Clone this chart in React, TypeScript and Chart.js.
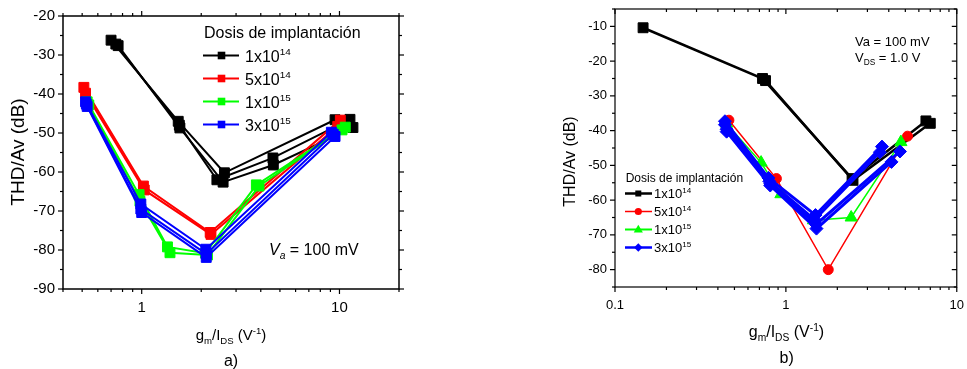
import React, { useEffect, useRef } from 'react';
import { Chart, registerables } from 'chart.js';

Chart.register(...registerables);

const FONT = '"Liberation Sans", Arial, Helvetica, sans-serif';

type Pt = [number, number];

// ---------------- Panel a) ----------------
const aBlack1: Pt[] = [[0.70, -26.2], [1.53, -47.0], [2.62, -60.2], [9.5, -46.6]];
const aBlack2: Pt[] = [[0.74, -27.2], [1.55, -48.0], [2.40, -62.0], [4.61, -56.4], [11.3, -46.5]];
const aBlack3: Pt[] = [[0.76, -27.6], [1.56, -48.7], [2.58, -62.6], [4.63, -58.2], [11.7, -48.6]];
const aRed1: Pt[] = [[0.51, -38.3], [1.02, -63.6], [2.22, -75.5], [10.1, -46.7]];
const aRed2: Pt[] = [[0.52, -39.8], [1.03, -64.6], [2.24, -76.0], [9.8, -48.3]];
const aGreen1: Pt[] = [[0.53, -42.0], [0.97, -65.8], [1.35, -79.2], [2.10, -80.8], [3.80, -63.3], [10.7, -48.5]];
const aGreen2: Pt[] = [[0.54, -42.8], [0.98, -67.5], [1.39, -80.7], [2.15, -81.3], [3.92, -63.6], [10.3, -49.2]];
const aBlue1: Pt[] = [[0.52, -42.0], [0.99, -68.2], [2.11, -79.8], [9.1, -49.8]];
const aBlue2: Pt[] = [[0.53, -43.2], [1.00, -70.4], [2.12, -81.9], [9.5, -50.9]];
const aBlue3: Pt[] = [[0.525, -42.6], [0.99, -69.5], [2.12, -81.0], [9.3, -50.3]];

const aXMajor = [1, 10];
const aXMinor = [0.4, 0.5, 0.6, 0.7, 0.8, 0.9, 2, 3, 4, 5, 6, 7, 8, 9, 20];
const aYMajor = [-90, -80, -70, -60, -50, -40, -30, -20];
const aYMinor = [-85, -75, -65, -55, -45, -35, -25];

// ---------------- Panel b) ----------------
const bBlack1: Pt[] = [[0.146, -10.4], [0.73, -25.0], [2.44, -53.8], [6.6, -37.2]];
const bBlack2: Pt[] = [[0.76, -25.6], [2.47, -54.3], [7.0, -37.9]];
const bRed: Pt[] = [[0.464, -37.0], [0.88, -53.8], [1.77, -80.0], [5.15, -41.6]];
const bGreen: Pt[] = [[0.45, -38.0], [0.716, -49.2], [0.935, -58.3], [1.45, -65.8], [2.41, -65.0], [4.71, -43.3]];
const bBlue1: Pt[] = [[0.44, -37.3], [0.79, -53.6], [1.49, -64.3], [3.65, -44.6]];
const bBlue2: Pt[] = [[0.44, -38.3], [0.80, -54.6], [1.47, -65.6], [3.55, -46.2]];
const bBlue3: Pt[] = [[0.45, -39.6], [0.81, -55.3], [1.50, -67.0], [4.65, -46.0]];
const bBlue4: Pt[] = [[0.45, -40.3], [0.81, -55.8], [1.51, -68.2], [4.15, -49.0]];

const bXMajor = [0.1, 1, 10];
const bXMinor = [0.2, 0.3, 0.4, 0.5, 0.6, 0.7, 0.8, 0.9, 2, 3, 4, 5, 6, 7, 8, 9];
const bYMajor = [-80, -70, -60, -50, -40, -30, -20, -10];
const bYMinor = [-85, -75, -65, -55, -45, -35, -25, -15, -5];

// ---------------- Legend ----------------
const legendTitle = 'Dosis de implantación';
const doseBase = ['1x10', '5x10', '1x10', '3x10'];
const doseExp = ['14', '14', '15', '15'];
const COLORS = ['#000000', '#ff0000', '#00ff00', '#0000ff'];

type Seg = { t: string; k?: 'sub' | 'sup'; it?: boolean };

function drawRich(ctx: CanvasRenderingContext2D, segs: Seg[], x: number, y: number, size: number, align: 'left' | 'center', ratio = 0.64) {
  const small = size * ratio;
  const fontOf = (s: Seg) => `${s.it ? 'italic ' : ''}${s.k ? small : size}px ${FONT}`;
  let w = 0;
  for (const s of segs) {
    ctx.font = fontOf(s);
    w += ctx.measureText(s.t).width;
  }
  let cx = align === 'center' ? x - w / 2 : x;
  ctx.textAlign = 'left';
  ctx.textBaseline = 'alphabetic';
  for (const s of segs) {
    ctx.font = fontOf(s);
    const dy = s.k === 'sub' ? size * 0.25 : s.k === 'sup' ? -size * 0.4 : 0;
    ctx.fillText(s.t, cx, y + dy);
    cx += ctx.measureText(s.t).width;
  }
}

function line(ctx: CanvasRenderingContext2D, x1: number, y1: number, x2: number, y2: number) {
  ctx.beginPath();
  ctx.moveTo(x1, y1);
  ctx.lineTo(x2, y2);
  ctx.stroke();
}

function marker(ctx: CanvasRenderingContext2D, style: string, x: number, y: number, r: number, color: string) {
  ctx.fillStyle = color;
  ctx.beginPath();
  if (style === 'rect') {
    ctx.rect(x - r, y - r, 2 * r, 2 * r);
  } else if (style === 'circle') {
    ctx.arc(x, y, r, 0, Math.PI * 2);
  } else if (style === 'triangle') {
    ctx.moveTo(x, y - r);
    ctx.lineTo(x + r * 0.95, y + r * 0.65);
    ctx.lineTo(x - r * 0.95, y + r * 0.65);
    ctx.closePath();
  } else {
    ctx.moveTo(x, y - r);
    ctx.lineTo(x + r, y);
    ctx.lineTo(x, y + r);
    ctx.lineTo(x - r, y);
    ctx.closePath();
  }
  ctx.fill();
}

type TickCfg = { xMajor: number[]; xMinor: number[]; yMajor: number[]; yMinor: number[]; inward: boolean; frame: number };

function drawFrameTicks(chart: any, c: TickCfg) {
  const ctx: CanvasRenderingContext2D = chart.ctx;
  const { left, right, top, bottom } = chart.chartArea;
  const xs = chart.scales.x;
  const ys = chart.scales.y;
  ctx.strokeStyle = '#000';
  ctx.lineWidth = c.frame;
  ctx.strokeRect(left, top, right - left, bottom - top);
  ctx.lineWidth = 1.2;
  const dir = c.inward ? -1 : 1;
  const groups: [number[], number[], number][] = [
    [c.xMajor, c.yMajor, 5],
    [c.xMinor, c.yMinor, 3],
  ];
  for (const [xv, yv, len] of groups) {
    for (const v of xv) {
      const p = xs.getPixelForValue(v);
      line(ctx, p, bottom, p, bottom + len);
      line(ctx, p, top, p, top - len * dir);
    }
    for (const v of yv) {
      const p = ys.getPixelForValue(v);
      line(ctx, left, p, left - len, p);
      line(ctx, right, p, right + len * dir, p);
    }
  }
}

function ds(points: Pt[], color: string, order: number, style: any) {
  return {
    data: points.map(([x, y]) => ({ x, y })),
    borderColor: color,
    backgroundColor: color,
    pointBackgroundColor: color,
    pointBorderColor: color,
    pointBorderWidth: 1,
    order,
    tension: 0,
    ...style,
  };
}

function baseOptions(xMin: number, xMax: number, yMin: number, yMax: number, xMajor: number[], yMajor: number[], yWidth: number, xHeight: number, padding: any, tickSize: number, xPad: number, yPad: number) {
  return {
    responsive: false,
    animation: false,
    devicePixelRatio: 1,
    layout: { padding },
    plugins: { legend: { display: false }, tooltip: { enabled: false }, title: { display: false } },
    scales: {
      x: {
        type: 'logarithmic',
        min: xMin,
        max: xMax,
        grid: { display: false },
        border: { display: false },
        afterBuildTicks: (s: any) => { s.ticks = xMajor.map((v) => ({ value: v })); },
        afterFit: (s: any) => { s.height = xHeight; },
        ticks: {
          autoSkip: false,
          maxRotation: 0,
          minRotation: 0,
          padding: xPad,
          color: '#000',
          font: { family: FONT, size: tickSize },
          callback: (v: any) => String(v),
        },
      },
      y: {
        type: 'linear',
        min: yMin,
        max: yMax,
        grid: { display: false },
        border: { display: false },
        afterBuildTicks: (s: any) => { s.ticks = yMajor.map((v) => ({ value: v })); },
        afterFit: (s: any) => { s.width = yWidth; },
        ticks: {
          autoSkip: false,
          padding: yPad,
          color: '#000',
          font: { family: FONT, size: tickSize },
          callback: (v: any) => String(v),
        },
      },
    },
  };
}

function PanelA() {
  const ref = useRef<HTMLCanvasElement>(null);
  useEffect(() => {
    if (!ref.current) return;
    const sq = { borderWidth: 2, pointStyle: 'rect', pointRadius: 7 };
    const plugin = {
      id: 'decorA',
      afterDraw(chart: any) {
        const ctx: CanvasRenderingContext2D = chart.ctx;
        ctx.save();
        drawFrameTicks(chart, { xMajor: aXMajor, xMinor: aXMinor, yMajor: aYMajor, yMinor: aYMinor, inward: false, frame: 1.5 });
        ctx.fillStyle = '#000';
        // y title
        ctx.save();
        ctx.translate(19, 152);
        ctx.rotate(-Math.PI / 2);
        ctx.font = `19px ${FONT}`;
        ctx.textAlign = 'center';
        ctx.textBaseline = 'middle';
        ctx.fillText('THD/Av (dB)', 0, 0);
        ctx.restore();
        // x title
        drawRich(ctx, [{ t: 'g' }, { t: 'm', k: 'sub' }, { t: '/I' }, { t: 'DS', k: 'sub' }, { t: ' (V' }, { t: '-1', k: 'sup' }, { t: ')' }], 231, 340, 15, 'center');
        drawRich(ctx, [{ t: 'a)' }], 231, 366, 16, 'center');
        // annotation
        drawRich(ctx, [{ t: 'V', it: true }, { t: 'a', k: 'sub', it: true }, { t: ' = 100 mV' }], 269, 255, 16, 'left');
        // legend
        ctx.fillStyle = '#000';
        drawRich(ctx, [{ t: legendTitle }], 204, 38, 16, 'left');
        const ys = [55.5, 78.5, 101.5, 124.5];
        for (let i = 0; i < 4; i++) {
          ctx.strokeStyle = COLORS[i];
          ctx.lineWidth = 2;
          line(ctx, 203, ys[i], 239, ys[i]);
          marker(ctx, 'rect', 221.5, ys[i], 3.8, COLORS[i]);
          ctx.fillStyle = '#000';
          drawRich(ctx, [{ t: doseBase[i] }, { t: doseExp[i], k: 'sup' }], 245, ys[i] + 6, 16, 'left', 0.62);
        }
        ctx.restore();
      },
    };
    const chart = new Chart(ref.current, {
      type: 'line',
      data: {
        datasets: [
          ds(aBlack1, COLORS[0], 4, sq),
          ds(aBlack2, COLORS[0], 4, sq),
          ds(aBlack3, COLORS[0], 4, sq),
          ds(aRed1, COLORS[1], 3, sq),
          ds(aRed2, COLORS[1], 3, sq),
          ds(aGreen1, COLORS[2], 2, sq),
          ds(aGreen2, COLORS[2], 2, sq),
          ds(aBlue1, COLORS[3], 1, sq),
          ds(aBlue2, COLORS[3], 1, sq),
          ds(aBlue3, COLORS[3], 1, sq),
        ],
      },
      options: baseOptions(0.4, 20, -90, -20, aXMajor, aYMajor, 63, 80, { left: 0, right: 81, top: 16, bottom: 0 }, 15, 2, 0) as any,
      plugins: [plugin],
    } as any);
    return () => chart.destroy();
  }, []);
  return <canvas ref={ref} width={480} height={369} style={{ position: 'absolute', left: 0, top: 0, width: 480, height: 369 }} />;
}

function PanelB() {
  const ref = useRef<HTMLCanvasElement>(null);
  useEffect(() => {
    if (!ref.current) return;
    const blk = { borderWidth: 2.5, pointStyle: 'rect', pointRadius: 7 };
    const red = { borderWidth: 1.5, pointStyle: 'circle', pointRadius: 5 };
    const grn = { borderWidth: 1.5, pointStyle: 'triangle', pointRadius: 7 };
    const blu = { borderWidth: 3, pointStyle: 'rectRot', pointRadius: 6.5 };
    const plugin = {
      id: 'decorB',
      afterDraw(chart: any) {
        const ctx: CanvasRenderingContext2D = chart.ctx;
        ctx.save();
        drawFrameTicks(chart, { xMajor: bXMajor, xMinor: bXMinor, yMajor: bYMajor, yMinor: bYMinor, inward: true, frame: 1.2 });
        ctx.fillStyle = '#000';
        ctx.save();
        ctx.translate(91, 161.5);
        ctx.rotate(-Math.PI / 2);
        ctx.font = `16px ${FONT}`;
        ctx.textAlign = 'center';
        ctx.textBaseline = 'middle';
        ctx.fillText('THD/Av (dB)', 0, 0);
        ctx.restore();
        drawRich(ctx, [{ t: 'g' }, { t: 'm', k: 'sub' }, { t: '/I' }, { t: 'DS', k: 'sub' }, { t: ' (V' }, { t: '-1', k: 'sup' }, { t: ')' }], 306.5, 337, 16, 'center');
        drawRich(ctx, [{ t: 'b)' }], 306.7, 363, 16, 'center');
        drawRich(ctx, [{ t: 'Va = 100 mV' }], 375, 46, 13, 'left');
        drawRich(ctx, [{ t: 'V' }, { t: 'DS', k: 'sub' }, { t: ' = 1.0 V' }], 375, 62, 13, 'left');
        // legend
        drawRich(ctx, [{ t: legendTitle }], 145.7, 181.7, 12, 'left');
        const ys = [193.5, 211.5, 229.5, 247.5];
        const styles = ['rect', 'circle', 'triangle', 'diamond'];
        const sizes = [3, 3.6, 4.8, 4.2];
        const widths = [2.5, 1.5, 2, 2.5];
        for (let i = 0; i < 4; i++) {
          ctx.strokeStyle = COLORS[i];
          ctx.lineWidth = widths[i];
          line(ctx, 145, ys[i], 172, ys[i]);
          marker(ctx, styles[i], 158.3, ys[i], sizes[i], COLORS[i]);
          ctx.fillStyle = '#000';
          drawRich(ctx, [{ t: doseBase[i] }, { t: doseExp[i], k: 'sup' }], 174, ys[i] + 4.7, 13, 'left', 0.62);
        }
        ctx.restore();
      },
    };
    const chart = new Chart(ref.current, {
      type: 'line',
      data: {
        datasets: [
          ds(bBlack1, COLORS[0], 4, blk),
          ds(bBlack2, COLORS[0], 4, blk),
          ds(bRed, COLORS[1], 3, red),
          ds(bGreen, COLORS[2], 2, grn),
          ds(bBlue1, COLORS[3], 1, blu),
          ds(bBlue2, COLORS[3], 1, blu),
          ds(bBlue3, COLORS[3], 1, blu),
          ds(bBlue4, COLORS[3], 1, blu),
        ],
      },
      options: baseOptions(0.1, 10, -85, -5, bXMajor, bYMajor, 135, 82, { left: 0, right: 8, top: 9, bottom: 0 }, 13, 3, 0) as any,
      plugins: [plugin],
    } as any);
    return () => chart.destroy();
  }, []);
  return <canvas ref={ref} width={487} height={369} style={{ position: 'absolute', left: 480, top: 0, width: 487, height: 369 }} />;
}

export default function App() {
  return (
    <div style={{ position: 'fixed', left: 0, top: 0, width: 967, height: 369, background: '#fff', overflow: 'hidden' }}>
      <PanelA />
      <PanelB />
    </div>
  );
}
